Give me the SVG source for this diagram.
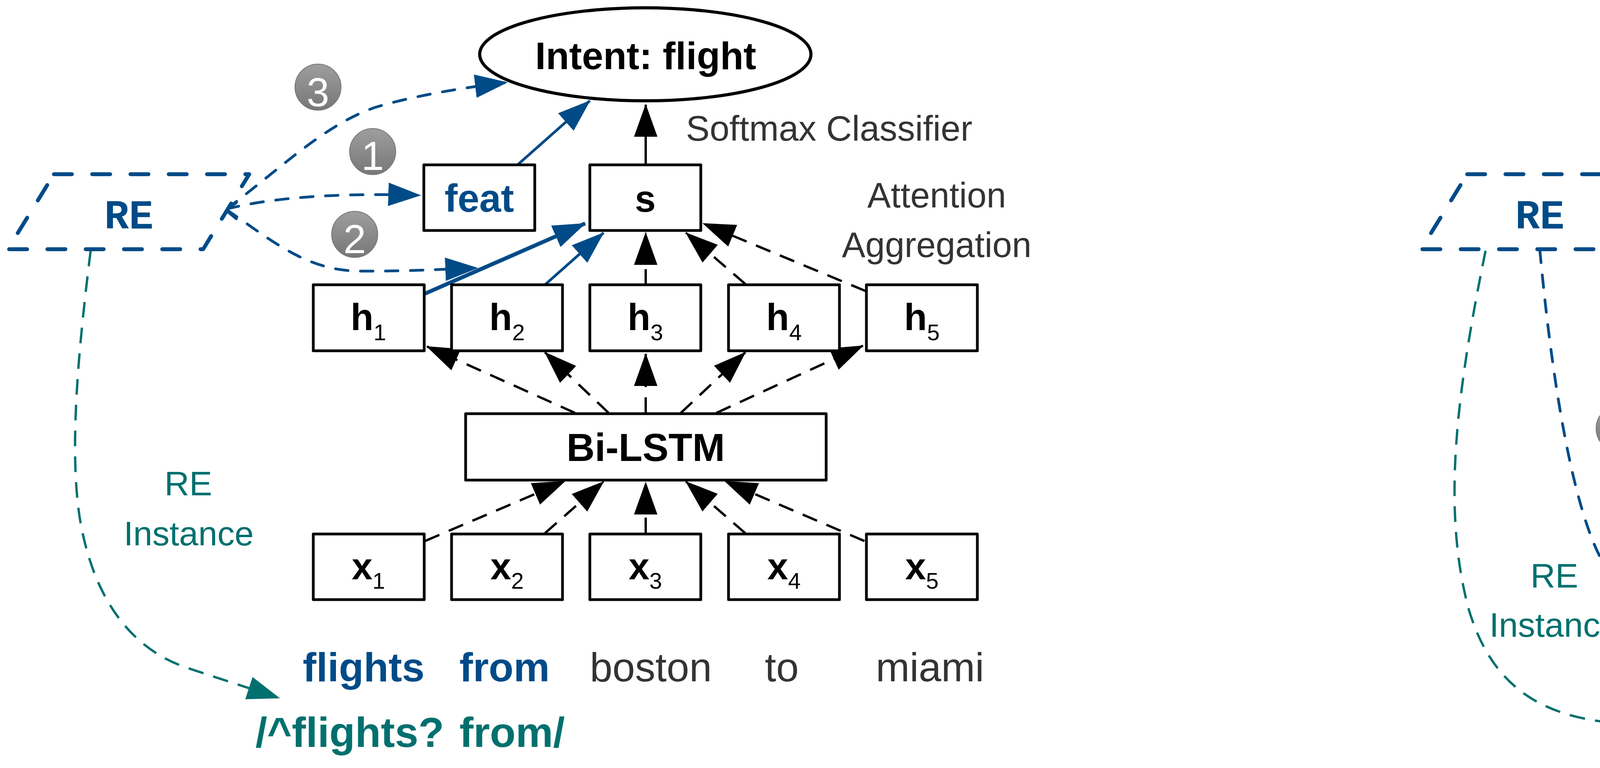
<svg xmlns="http://www.w3.org/2000/svg" width="6216" height="1966" viewBox="0 0 6216 1966">
<style>
text{font-family:'Liberation Sans',Arial,sans-serif}
.box{fill:#fff;stroke:#000;stroke-width:7;stroke-linejoin:round}
.fbox{fill:#fff;stroke:#004B87;stroke-width:7;stroke-linejoin:round}
.ell{fill:#fff;stroke:#000;stroke-width:8}
.lbl{font-weight:bold;font-size:96px;text-anchor:middle;fill:#000}
.sub{font-weight:normal;font-size:58px}
.sub2{font-weight:normal;font-size:56px}
.gray{font-size:90px;fill:#333}
.mid{text-anchor:middle}
.dash{fill:none;stroke:#000;stroke-width:6;stroke-dasharray:40 26}
.solid{fill:none;stroke:#000;stroke-width:6}
.bsolid{fill:none;stroke:#004B87;stroke-width:7}
.bdash{fill:none;stroke:#004B87;stroke-width:7;stroke-dasharray:32 32;stroke-linecap:round}
.tdash{fill:none;stroke:#00706E;stroke-width:6;stroke-dasharray:40 26}
.re{fill:#fff;stroke:#004B87;stroke-width:10;stroke-dasharray:46 52;stroke-linecap:round;stroke-linejoin:round}
.retxt{font-family:'Liberation Mono','Courier New',monospace;font-weight:bold;font-size:105px;fill:#004B87;text-anchor:middle}
.teal{fill:#00706E}
.blue{fill:#004B87}
.orange{fill:#C05800}
.num{fill:url(#gg);stroke:#6f7a74;stroke-width:2}
.numt{font-size:104px;fill:#fff;text-anchor:middle}
.word{font-size:104px}
</style>
<defs>
<linearGradient id="gg" x1="0" y1="0" x2="0" y2="1">
<stop offset="0" stop-color="#9e9e9e"/>
<stop offset="1" stop-color="#777"/>
</linearGradient>
<marker id="ak" markerUnits="userSpaceOnUse" markerWidth="84" markerHeight="60" viewBox="0 0 84 60" refX="82" refY="30" orient="auto"><path d="M0,0 L84,30 L0,60 Z" fill="#000"/></marker>
<marker id="ab" markerUnits="userSpaceOnUse" markerWidth="84" markerHeight="60" viewBox="0 0 84 60" refX="82" refY="30" orient="auto"><path d="M0,0 L84,30 L0,60 Z" fill="#004B87"/></marker>
<marker id="at" markerUnits="userSpaceOnUse" markerWidth="84" markerHeight="60" viewBox="0 0 84 60" refX="82" refY="30" orient="auto"><path d="M0,0 L84,30 L0,60 Z" fill="#00706E"/></marker>
</defs>
<rect width="6216" height="1966" fill="#fff"/>

<g id="connectors">
<!-- left panel -->
<path class="bsolid" d="M1326,421 L1510,258" marker-end="url(#ab)"/>
<path class="solid" d="M1653,422 L1653,268" marker-end="url(#ak)"/>
<path class="bsolid" style="stroke-width:10" d="M1085,753 L1498,572" marker-end="url(#ab)"/>
<path class="bsolid" d="M1395,729 L1545,596" marker-end="url(#ab)"/>
<path class="dash" d="M1653,729 L1653,596" marker-end="url(#ak)"/>
<path class="dash" d="M1908,727 L1756,596" marker-end="url(#ak)"/>
<path class="dash" d="M2216,745 L1800,572" marker-end="url(#ak)"/>
<path class="dash" d="M1472,1057 L1093,887" marker-end="url(#ak)"/>
<path class="dash" d="M1558,1057 L1395,902" marker-end="url(#ak)"/>
<path class="dash" d="M1653,1057 L1653,906" marker-end="url(#ak)"/>
<path class="dash" d="M1743,1057 L1908,902" marker-end="url(#ak)"/>
<path class="dash" d="M1834,1057 L2209,885" marker-end="url(#ak)"/>
<path class="dash" d="M1088,1385 L1446,1232" marker-end="url(#ak)"/>
<path class="dash" d="M1395,1365 L1545,1233" marker-end="url(#ak)"/>
<path class="dash" d="M1653,1365 L1653,1235" marker-end="url(#ak)"/>
<path class="dash" d="M1908,1365 L1756,1233" marker-end="url(#ak)"/>
<path class="dash" d="M2213,1385 L1856,1232" marker-end="url(#ak)"/>
<polyline class="bsolid" style="stroke-linecap:round;stroke-linejoin:round" points="605,519 577,537 605,560"/>
<path class="bdash" d="M580,535 C720,430 830,320 960,275 C1060,245 1180,225 1298,211" marker-end="url(#ab)"/>
<path class="bdash" d="M580,535 Q760,490 1076,500" marker-end="url(#ab)"/>
<path class="bdash" d="M580,537 C690,610 780,693 920,694 C1020,695 1120,690 1222,686" marker-end="url(#ab)"/>
<path class="tdash" d="M232,642 C200,900 170,1200 215,1380 C250,1530 330,1660 480,1710 L715,1787" marker-end="url(#at)"/>
<!-- right panel -->
<path class="solid" d="M5100,422 L5097,292" marker-end="url(#ak)"/>
<path class="dash" d="M4536,753 L4951,572" marker-end="url(#ak)"/>
<path class="bsolid" d="M4842,729 L4993,596" marker-end="url(#ab)"/>
<path class="dash" d="M5102,729 L5102,596" marker-end="url(#ak)"/>
<path class="dash" d="M5357,727 L5206,596" marker-end="url(#ak)"/>
<path class="dash" d="M5666,745 L5253,572" marker-end="url(#ak)"/>
<path class="dash" d="M4922,1057 L4543,887" marker-end="url(#ak)"/>
<path class="dash" d="M5008,1057 L4845,902" marker-end="url(#ak)"/>
<path class="dash" d="M5103,1057 L5103,906" marker-end="url(#ak)"/>
<path class="dash" d="M5193,1057 L5358,902" marker-end="url(#ak)"/>
<path class="dash" d="M5284,1057 L5659,885" marker-end="url(#ak)"/>
<path class="dash" d="M4538,1372 L4896,1232" marker-end="url(#ak)"/>
<path class="dash" d="M4845,1365 L4995,1233" marker-end="url(#ak)"/>
<path class="dash" d="M5103,1365 L5103,1235" marker-end="url(#ak)"/>
<path class="dash" d="M5358,1365 L5206,1233" marker-end="url(#ak)"/>
<path class="dash" d="M5666,1372 L5306,1232" marker-end="url(#ak)"/>
<polyline class="bsolid" style="stroke-linecap:round;stroke-linejoin:round" points="4217,520 4189,538 4217,561"/>
<path class="bdash" d="M4192,536 L4820,276" marker-end="url(#ab)"/>
<path class="bdash" d="M4192,540 L4744,657" marker-end="url(#ab)"/>
<path class="bdash" d="M3942,640 C3980,1050 4040,1340 4110,1450 C4140,1485 4190,1500 4252,1507" marker-end="url(#ab)"/>
<path class="tdash" d="M3803,642 C3730,1000 3690,1300 3760,1560 C3820,1760 3950,1850 4200,1854 L4548,1854" marker-end="url(#at)"/>
</g>

<!-- ===== Left panel nodes ===== -->
<g id="L-intent">
<ellipse class="ell" cx="1652" cy="139" rx="424" ry="119"/>
<text class="lbl" x="1653" y="177" style="font-size:98px">Intent: flight</text>
</g>
<g id="L-softmax-label"><text class="gray" x="1756" y="360" style="font-size:91px">Softmax Classifier</text></g>
<g id="L-attn-label"><text class="gray mid" x="2398" y="531">Attention</text><text class="gray mid" x="2398" y="658">Aggregation</text></g>
<g id="L-feat"><rect class="box" x="1085" y="422" width="284" height="168"/><text class="lbl blue" x="1227" y="542" style="font-size:100px">feat</text></g>
<g id="L-s"><rect class="box" x="1510" y="422" width="284" height="168"/><text class="lbl" x="1652" y="542">s</text></g>
<g id="L-h1"><rect class="box" x="802" y="729" width="284" height="169"/><text class="lbl" x="943" y="845">h<tspan class="sub" dy="26">1</tspan></text></g>
<g id="L-h2"><rect class="box" x="1156" y="729" width="284" height="169"/><text class="lbl" x="1298" y="845">h<tspan class="sub" dy="26">2</tspan></text></g>
<g id="L-h3"><rect class="box" x="1510" y="729" width="284" height="169"/><text class="lbl" x="1652" y="845">h<tspan class="sub" dy="26">3</tspan></text></g>
<g id="L-h4"><rect class="box" x="1865" y="729" width="284" height="169"/><text class="lbl" x="2007" y="845">h<tspan class="sub" dy="26">4</tspan></text></g>
<g id="L-h5"><rect class="box" x="2218" y="729" width="284" height="169"/><text class="lbl" x="2360" y="845">h<tspan class="sub" dy="26">5</tspan></text></g>
<g id="L-bilstm"><rect class="box" x="1192" y="1059" width="923" height="170"/><text class="lbl" x="1653" y="1180" style="font-size:100px">Bi-LSTM</text></g>
<g id="L-x1"><rect class="box" x="802" y="1367" width="284" height="168"/><text class="lbl" x="943" y="1483">x<tspan class="sub" dy="24">1</tspan></text></g>
<g id="L-x2"><rect class="box" x="1156" y="1367" width="284" height="168"/><text class="lbl" x="1298" y="1483">x<tspan class="sub" dy="24">2</tspan></text></g>
<g id="L-x3"><rect class="box" x="1510" y="1367" width="284" height="168"/><text class="lbl" x="1652" y="1483">x<tspan class="sub" dy="24">3</tspan></text></g>
<g id="L-x4"><rect class="box" x="1865" y="1367" width="284" height="168"/><text class="lbl" x="2007" y="1483">x<tspan class="sub" dy="24">4</tspan></text></g>
<g id="L-x5"><rect class="box" x="2218" y="1367" width="284" height="168"/><text class="lbl" x="2360" y="1483">x<tspan class="sub" dy="24">5</tspan></text></g>
<g id="L-RE"><polygon class="re" points="138,446 638,446 520,638 20,638"/><text class="retxt" x="330" y="585">RE</text></g>
<g id="L-num3"><circle class="num" cx="814" cy="223" r="59"/><text class="numt" x="814" y="272">3</text></g>
<g id="L-num1"><circle class="num" cx="954" cy="388" r="59"/><text class="numt" x="954" y="435">1</text></g>
<g id="L-num2"><circle class="num" cx="908" cy="600" r="59"/><text class="numt" x="908" y="648">2</text></g>
<g id="L-re-instance"><text class="teal mid" x="482" y="1268" style="font-size:88px">RE</text><text class="teal mid" x="483" y="1396" style="font-size:88px">Instance</text></g>
<g id="L-sentence">
<text class="word" y="1744"><tspan class="blue" x="775" font-weight="bold">flights </tspan><tspan class="blue" x="1176" font-weight="bold">from </tspan><tspan x="1510" fill="#333">boston </tspan><tspan x="1958" fill="#333">to </tspan><tspan x="2242" fill="#333">miami</tspan></text>
</g>
<g id="L-regex"><text class="teal" y="1912" style="font-size:108px;font-weight:bold"><tspan x="654">/^flights? </tspan><tspan x="1176">from/</tspan></text></g>

<!-- ===== Right panel nodes ===== -->
<g id="R-slot">
<ellipse class="ell" cx="5088" cy="162" rx="650" ry="119"/>
<text class="lbl" x="5091" y="195">Slot<tspan class="sub" dy="25">3</tspan><tspan dy="-25">: B-fromloc.city</tspan></text>
</g>
<g id="R-softmax-label"><text class="gray" x="5258" y="383">Softmax Classifier</text></g>
<g id="R-attn-label"><text class="gray mid" x="5868" y="555">Attention</text><text class="gray mid" x="5868" y="682">Aggregation</text></g>
<g id="R-s3"><rect class="box" x="4960" y="422" width="284" height="168"/><text class="lbl" x="5102" y="536">s<tspan class="sub" dy="25">3</tspan></text></g>
<g id="R-h1"><rect class="box" x="4252" y="729" width="284" height="169"/><text class="lbl" x="4393" y="845">h<tspan class="sub" dy="26">1</tspan></text></g>
<g id="R-h2"><rect class="box" x="4606" y="729" width="284" height="169"/><text class="lbl" x="4748" y="845">h<tspan class="sub" dy="26">2</tspan></text></g>
<g id="R-h3"><rect class="box" x="4960" y="729" width="284" height="169"/><text class="lbl orange" x="5102" y="845">h<tspan class="sub" dy="26">3</tspan></text></g>
<g id="R-h4"><rect class="box" x="5315" y="729" width="284" height="169"/><text class="lbl" x="5457" y="845">h<tspan class="sub" dy="26">4</tspan></text></g>
<g id="R-h5"><rect class="box" x="5668" y="729" width="284" height="169"/><text class="lbl" x="5810" y="845">h<tspan class="sub" dy="26">5</tspan></text></g>
<g id="R-bilstm"><rect class="box" x="4642" y="1059" width="923" height="170"/><text class="lbl" x="5103" y="1180" style="font-size:100px">Bi-LSTM</text></g>
<g id="R-x1"><rect class="box" x="4250" y="1367" width="286" height="121"/><text class="lbl" x="4393" y="1459" style="font-size:100px">x<tspan class="sub2" dy="25">1</tspan></text></g>
<g id="R-x2"><rect class="box" x="4606" y="1367" width="284" height="121"/><text class="lbl" x="4748" y="1459" style="font-size:100px">x<tspan class="sub2" dy="25">2</tspan></text></g>
<g id="R-x3"><rect class="box" x="4960" y="1367" width="284" height="121"/><text class="lbl orange" x="5102" y="1459" style="font-size:100px">x<tspan class="sub2" dy="25">3</tspan></text></g>
<g id="R-x4"><rect class="box" x="5315" y="1367" width="284" height="121"/><text class="lbl" x="5457" y="1459" style="font-size:100px">x<tspan class="sub2" dy="25">4</tspan></text></g>
<g id="R-x5"><rect class="box" x="5668" y="1367" width="284" height="121"/><text class="lbl" x="5810" y="1459" style="font-size:100px">x<tspan class="sub2" dy="25">5</tspan></text></g>
<g id="R-f1"><rect class="fbox" x="4250" y="1509" width="286" height="121"/><text class="lbl blue" x="4393" y="1602" style="font-size:100px">f<tspan class="sub2" dy="23">1</tspan></text></g>
<g id="R-f2"><rect class="fbox" x="4606" y="1509" width="284" height="121"/><text class="lbl blue" x="4748" y="1602" style="font-size:100px">f<tspan class="sub2" dy="23">2</tspan></text></g>
<g id="R-f3"><rect class="fbox" x="4960" y="1509" width="284" height="121"/><text class="lbl blue" x="5102" y="1602" style="font-size:100px">f<tspan class="sub2" dy="23">3</tspan></text></g>
<g id="R-f4"><rect class="fbox" x="5315" y="1509" width="284" height="121"/><text class="lbl blue" x="5457" y="1602" style="font-size:100px">f<tspan class="sub2" dy="23">4</tspan></text></g>
<g id="R-f5"><rect class="fbox" x="5668" y="1509" width="284" height="121"/><text class="lbl blue" x="5810" y="1602" style="font-size:100px">f<tspan class="sub2" dy="23">5</tspan></text></g>
<g id="R-RE"><polygon class="re" points="3756,446 4256,446 4138,638 3638,638"/><text class="retxt" x="3942" y="585">RE</text></g>
<g id="R-num3"><circle class="num" cx="4403" cy="340" r="59"/><text class="numt" x="4403" y="389">3</text></g>
<g id="R-num2"><circle class="num" cx="4737" cy="506" r="59"/><text class="numt" x="4737" y="554">2</text></g>
<g id="R-num1"><circle class="num" cx="4145" cy="1097" r="59"/><text class="numt" x="4145" y="1144">1</text></g>
<g id="R-re-instance"><text class="teal mid" x="3979" y="1504" style="font-size:88px">RE</text><text class="teal mid" x="3979" y="1630" style="font-size:88px">Instance</text></g>
<g id="R-sentence">
<text class="word" y="1744"><tspan x="4248" fill="#000">flights </tspan><tspan class="blue" x="4626" font-weight="bold">from </tspan><tspan class="orange" x="4938" font-weight="bold">boston </tspan><tspan x="5405" fill="#333">to </tspan><tspan x="5691" fill="#333">miami</tspan></text>
</g>
<g id="R-regex"><text class="teal" y="1912" style="font-size:104px;font-weight:bold"><tspan x="4600">/from </tspan><tspan x="4929">__CITY </tspan><tspan x="5405">to </tspan><tspan x="5639">__CITY/</tspan></text></g>
</svg>
